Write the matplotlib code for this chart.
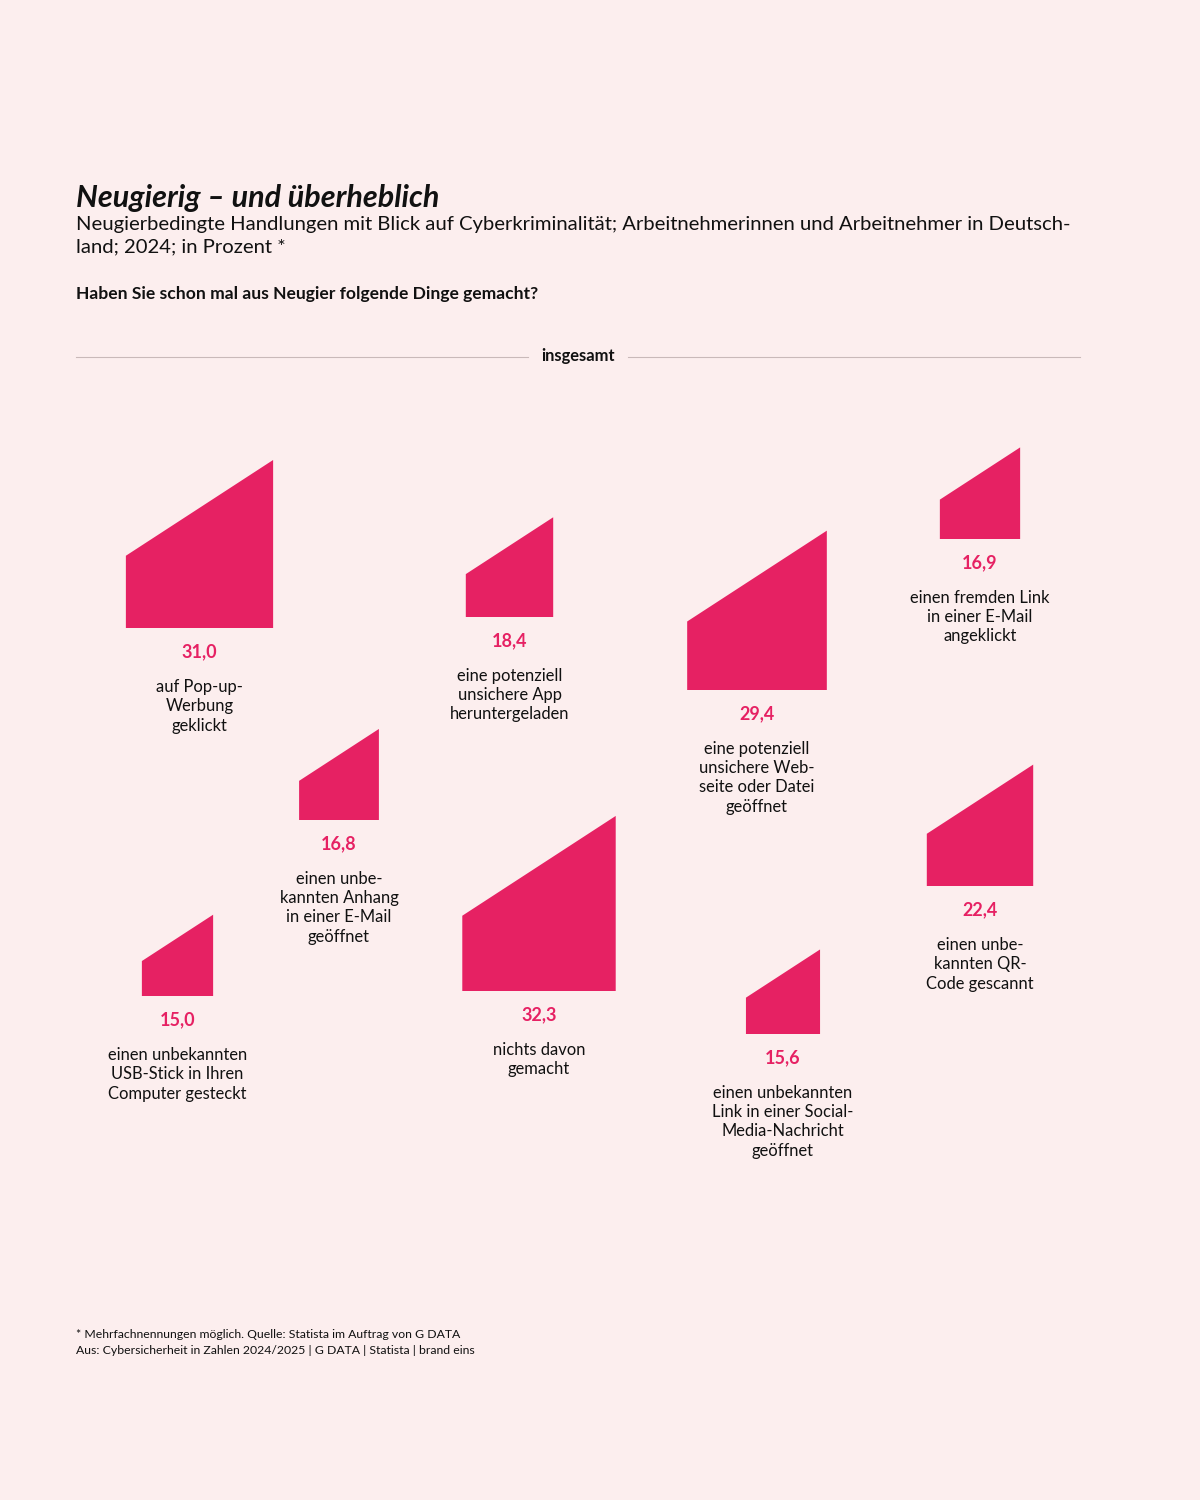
import matplotlib.pyplot as plt
from matplotlib.patches import Polygon

# data
labels = [
    "auf Pop-up-\nWerbung\ngeklickt",
    "eine potenziell\nunsichere App\nheruntergeladen",
    "eine potenziell\nunsichere Web-\nseite oder Datei\ngeöffnet",
    "einen fremden Link\nin einer E-Mail\nangeklickt",
    "einen unbe-\nkannten Anhang\nin einer E-Mail\ngeöffnet",
    "einen unbekannten\nUSB-Stick in Ihren\nComputer gesteckt",
    "nichts davon\ngemacht",
    "einen unbekannten\nLink in einer Social-\nMedia-Nachricht\ngeöffnet",
    "einen unbe-\nkannten QR-\nCode gescannt",
]
values = [31.0, 18.4, 29.4, 16.9, 16.8, 15.0, 32.3, 15.6, 22.4]

# layout (pixel positions: centre x, bottom y of each shape)
pos_x = [199.5, 509.5, 757, 980, 339, 177.5, 539, 783, 980]
pos_y = [628, 617, 690, 539, 820, 996, 991, 1034, 886]

BG = "#FCEEEE"
PINK = "#E62163"
DARK = "#111111"
FONT = "Lato"

plt.rcParams['font.family'] = [FONT, 'DejaVu Sans']

fig = plt.figure(figsize=(12, 15), dpi=100, facecolor=BG)
ax = fig.add_axes([0, 0, 1, 1])
ax.set_xlim(0, 1200)
ax.set_ylim(1500, 0)
ax.axis('off')
ax.set_facecolor(BG)

px = 72 / 100  # pixel -> points

# header
ax.text(76, 198, "Neugierig – und überheblich", fontsize=30.5 * px, fontweight='bold',
        fontstyle='italic', color=DARK, va='center', ha='left')
ax.text(76, 236, "Neugierbedingte Handlungen mit Blick auf Cyberkriminalität; Arbeitnehmerinnen und Arbeitnehmer in Deutsch-\nland; 2024; in Prozent *",
        fontsize=20.3 * px, color=DARK, va='center', ha='left', linespacing=1.38)
ax.text(76, 294, "Haben Sie schon mal aus Neugier folgende Dinge gemacht?", fontsize=17.5 * px,
        fontweight='bold', color=DARK, va='center', ha='left')

# separator
ax.plot([76, 528], [357, 357], color="#c9b9b9", lw=0.8)
ax.plot([628, 1080], [357, 357], color="#c9b9b9", lw=0.8)
ax.text(578, 356, "insgesamt", fontsize=16.5 * px, fontweight='bold', color=DARK,
        ha='center', va='center')

# shapes
w_scale = 4.75
h_scale = 5.42
left_ratio = 0.43
for lab, v, cx, by in zip(labels, values, pos_x, pos_y):
    w = v * w_scale
    h = v * h_scale
    x0 = cx - w / 2
    pts = [(x0, by), (x0 + w, by), (x0 + w, by - h), (x0, by - h * left_ratio)]
    ax.add_patch(Polygon(pts, closed=True, facecolor=PINK, edgecolor='none'))
    ax.text(cx, by + 24, f"{v:.1f}".replace('.', ','), fontsize=18 * px, fontweight='bold',
            color=PINK, ha='center', va='center')
    ax.text(cx, by + 51, lab, fontsize=16.5 * px, color=DARK, ha='center', va='top',
            linespacing=1.25)

# footer
ax.text(76, 1334, "* Mehrfachnennungen möglich. Quelle: Statista im Auftrag von G DATA",
        fontsize=12.2 * px, color=DARK, va='center', ha='left')
ax.text(76, 1350, "Aus: Cybersicherheit in Zahlen 2024/2025 | G DATA | Statista | brand eins",
        fontsize=12.2 * px, color=DARK, va='center', ha='left')

fig.savefig("out.png", dpi=100, facecolor=BG)
